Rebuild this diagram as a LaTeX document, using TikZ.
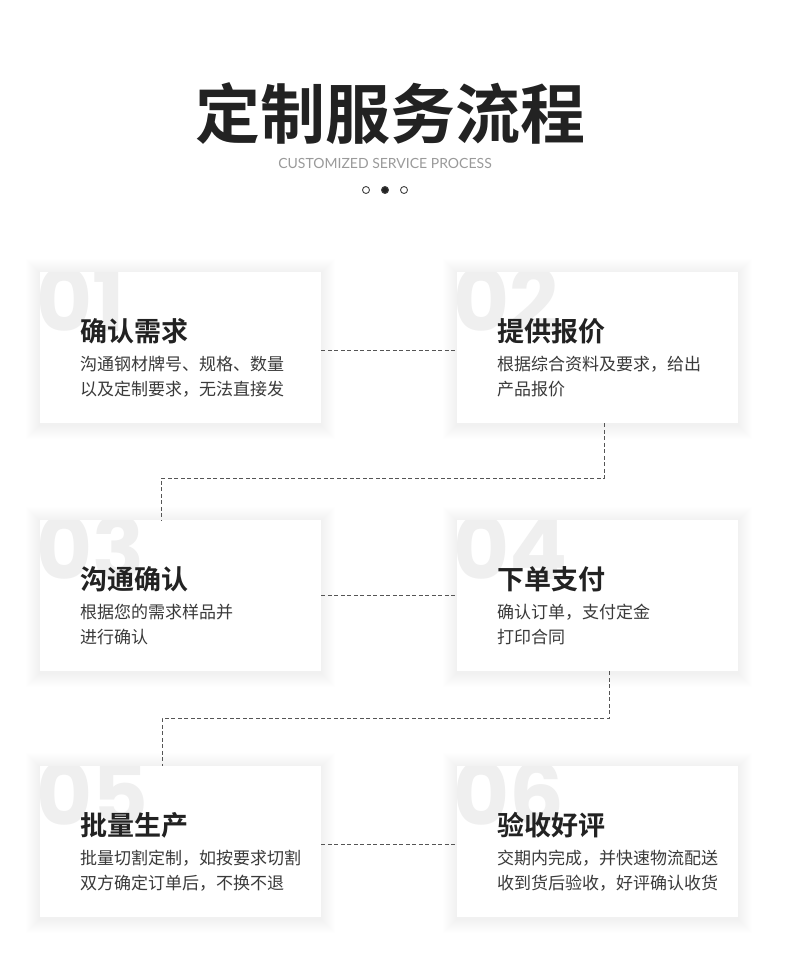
\documentclass[tikz,border=0pt]{standalone}
\usepackage{fontspec}
\setmainfont{Noto Sans CJK SC}[BoldFont={Noto Sans CJK SC Bold}]
\newfontfamily\numfont{Poppins}
\newfontfamily\latinfont{Lato}
\definecolor{ink}{HTML}{222222}
\definecolor{txt}{HTML}{3A3A3A}
\definecolor{subgray}{HTML}{9A9A9A}
\definecolor{numgray}{HTML}{EFEFEF}
\definecolor{dashc}{HTML}{555555}

\begin{document}
\begin{tikzpicture}[x=1pt,y=-1pt,
  card/.style={fill=white,minimum width=281pt,minimum height=151pt,inner sep=0pt,anchor=north west},
  halo/.style={fill=black,opacity=0.0045,even odd rule},
  num/.style={text=numgray,inner sep=0pt,font=\numfont\bfseries\fontsize{86}{86}\selectfont},
  head/.style={text=ink,inner sep=0pt,anchor=west,font=\bfseries\fontsize{27}{30}\selectfont},
  body/.style={text=txt,inner sep=0pt,anchor=west,align=left,font=\fontsize{17}{25}\selectfont},
  conn/.style={draw=dashc,line width=0.9pt,dash pattern=on 4pt off 2.5pt},
  dot/.style={circle,minimum size=7pt,inner sep=0pt,draw=ink!85,line width=0.9pt}]
  \fill[white] (0,0) rectangle (790,960);
  \useasboundingbox (0,0) rectangle (790,960);
  % title
  \node[text=ink,font=\bfseries\fontsize{65}{70}\selectfont] (title) at (390,114) {定制服务流程};
  \node[text=subgray,font=\latinfont\fontsize{14}{18}\selectfont] (subtitle) at (385,163) {CUSTOMIZED SERVICE PROCESS};
  \node[dot,fill=white] (d1) at (366,190) {};
  \node[dot,fill=ink] (d2) at (385,190) {};
  \node[dot,fill=white] (d3) at (404,190) {};
  % cards
  \foreach \n/\x/\y/\t/\la/\lb in {
    1/40/272/确认需求/沟通钢材牌号、规格、数量/以及定制要求，无法直接发,
    2/457/272/提供报价/根据综合资料及要求，给出/产品报价,
    3/40/520/沟通确认/根据您的需求样品并/进行确认,
    4/457/520/下单支付/确认订单，支付定金/打印合同,
    5/40/766/批量生产/批量切割定制，如按要求切割/双方确定订单后，不换不退,
    6/457/766/验收好评/交期内完成，并快速物流配送/收到货后验收，好评确认收货}{
    \node[card] (c\n) at (\x,\y) {};
    % soft shadow, ring by ring
    \foreach \i in {1,...,14}
      \fill[halo] ([xshift=-\i pt,yshift=\i pt-1pt]c\n.north west) rectangle ([xshift=\i pt,yshift=-\i pt-2pt]c\n.south east)
        (c\n.north west) rectangle (c\n.south east);
    \begin{scope}
      \clip (c\n.north west) rectangle (c\n.south east);
      \node[num,anchor=base west] (n\n) at ([xshift=-4pt,yshift=-59pt]c\n.north west) {0\n};
    \end{scope}
    \node[head] (h\n) at ([xshift=40pt,yshift=-59pt]c\n.north west) {\t};
    \node[body] (b\n) at ([xshift=40pt,yshift=-104.5pt]c\n.north west) {\la\\\lb};
  }
  % connectors
  \foreach \a/\b/\s in {1/2/-2.5,3/4/0,5/6/-3}
    \draw[conn] ([yshift=\s pt]c\a.east) -- ([yshift=\s pt]c\b.west);
  \draw[conn] ([xshift=147pt]c2.south west) -- ++(0,55) -| ([xshift=121pt]c3.north west);
  \draw[conn] ([xshift=152pt]c4.south west) -- ++(0,47) -| ([xshift=122pt]c5.north west);
\end{tikzpicture}
\end{document}
